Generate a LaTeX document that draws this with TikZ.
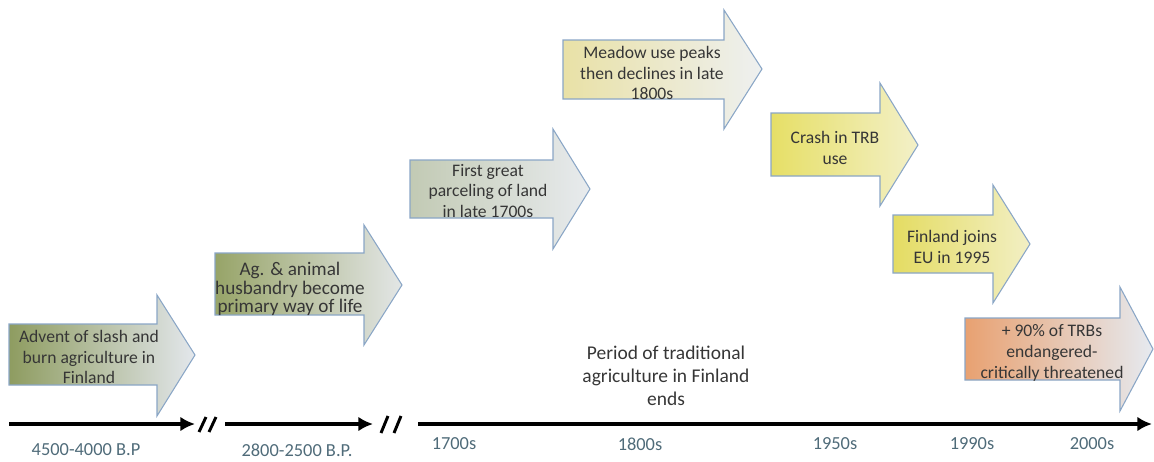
\documentclass[tikz,border=0pt]{standalone}
\usepackage{fontspec}
\setmainfont{Carlito}
\usetikzlibrary{arrows.meta}

\definecolor{edgeblue}{HTML}{8AA6C6}
\definecolor{evttext}{HTML}{363636}
\definecolor{yrtext}{HTML}{4F6B79}

\begin{document}
\begin{tikzpicture}[x=0.75pt,y=0.75pt,yscale=-1,
  arrowbox/.style={draw=edgeblue, line width=0.8pt, line join=miter},
  evt/.style={text=evttext, align=center, font=\fontsize{13.2}{15.6}\selectfont, inner sep=0pt},
  yr/.style={text=yrtext, font=\fontsize{13.8}{16}\selectfont, inner sep=0pt},
  axisline/.style={line width=3pt, -{Latex[length=11pt,width=11pt]}},
  breakmark/.style={line width=2.2pt}]
%set diagram left start at 0, and has height of 461
\path[use as bounding box] (0,0) rectangle (1154,461);

%Shape: Right Arrow
\draw[arrowbox, left color={rgb,255:red,142;green,156;blue,96}, right color={rgb,255:red,227;green,231;blue,236}]
  (9,324) -- (157,324) -- (157,295) -- (195,355) -- (157,416) -- (157,385) -- (9,385) -- cycle ;
%Shape: Right Arrow
\draw[arrowbox, left color={rgb,255:red,151;green,164;blue,104}, right color={rgb,255:red,227;green,230;blue,230}]
  (215,253) -- (364,253) -- (364,225) -- (402,285) -- (364,345) -- (364,315) -- (215,315) -- cycle ;
%Shape: Right Arrow
\draw[arrowbox, left color={rgb,255:red,194;green,202;blue,180}, right color={rgb,255:red,232;green,235;blue,238}]
  (410,160) -- (553,160) -- (553,129) -- (590,189) -- (553,249) -- (553,218) -- (410,218) -- cycle ;
%Shape: Right Arrow
\draw[arrowbox, left color={rgb,255:red,233;green,225;blue,166}, right color={rgb,255:red,238;green,240;blue,240}]
  (563,40) -- (724,40) -- (724,10) -- (762,69) -- (724,129) -- (724,99) -- (563,99) -- cycle ;
%Shape: Right Arrow
\draw[arrowbox, left color={rgb,255:red,230;green,223;blue,102}, right color={rgb,255:red,243;green,240;blue,200}]
  (771,113) -- (880,113) -- (880,83) -- (918,145) -- (880,206) -- (880,176) -- (771,176) -- cycle ;
%Shape: Right Arrow
\draw[arrowbox, left color={rgb,255:red,228;green,220;blue,98}, right color={rgb,255:red,242;green,239;blue,196}]
  (893,215) -- (993,215) -- (993,185) -- (1030,244) -- (993,303) -- (993,273) -- (893,273) -- cycle ;
%Shape: Right Arrow
\draw[arrowbox, left color={rgb,255:red,232;green,161;blue,113}, right color={rgb,255:red,230;green,234;blue,240}]
  (965,318) -- (1120,318) -- (1120,287) -- (1153,349) -- (1120,411) -- (1120,380) -- (965,380) -- cycle ;

%Straight Lines
\draw[axisline] (9,424) -- (195,424) ;
\draw[axisline] (225,424) -- (373,424) ;
\draw[axisline] (418,424) -- (1152,424) ;
%Straight Lines
\draw[breakmark] (199,432) -- (206,417) (209,432) -- (216,417) ;
\draw[breakmark] (381,433) -- (388,416) (394,433) -- (401,416) ;

% Text Node
\node[evt] (slashburn) at (89,357) {Advent of slash and\\burn agriculture in\\Finland};
% Text Node
\node[evt, font=\fontsize{14.4}{14}\selectfont] (husbandry) at (290,289) {Ag. \& animal\\husbandry become\\primary way of life};
% Text Node
\node[evt] (parceling) at (488,191) {First great\\parceling of land\\in late 1700s};
% Text Node
\node[evt] (meadow) at (652,73) {Meadow use peaks\\then declines in late\\1800s};
% Text Node
\node[evt] (crash) at (835,148) {Crash in TRB\\use};
% Text Node
\node[evt] (joinseu) at (952,247) {Finland joins\\EU in 1995};
% Text Node
\node[evt] (endangered) at (1052,353) {+ 90\% of TRBs\\endangered-\\critically threatened};
% Text Node
\node[evt, font=\fontsize{14.6}{17.3}\selectfont] (period) at (666,376) {Period of traditional\\agriculture in Finland\\ends};

% Text Node
\node[yr] (bp1) at (86,450) {4500-4000 B.P};
% Text Node
\node[yr] (bp2) at (297,450) {2800-2500 B.P.};
% Text Node
\node[yr] (y1700) at (454,444) {1700s};
% Text Node
\node[yr] (y1800) at (640,444) {1800s};
% Text Node
\node[yr] (y1950) at (835,444) {1950s};
% Text Node
\node[yr] (y1990) at (972,444) {1990s};
% Text Node
\node[yr] (y2000) at (1092,444) {2000s};

\end{tikzpicture}
\end{document}
